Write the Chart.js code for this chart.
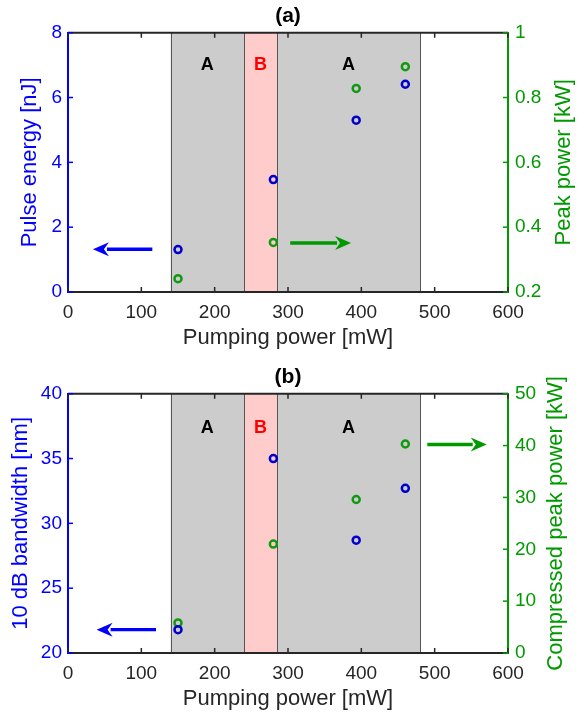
<!DOCTYPE html>
<html>
<head>
<meta charset="utf-8">
<script src="https://cdn.jsdelivr.net/npm/chart.js@4/dist/chart.umd.min.js"></script>
<style>
  html, body { margin: 0; padding: 0; background: #fff; overflow: hidden; width: 588px; height: 716px; }
  .panel { position: absolute; left: 0; width: 588px; height: 360px; }
  #panelA { top: 0; }
  #panelB { top: 361px; }
</style>
</head>
<body>
<div class="panel" id="panelA"><canvas id="chartA"></canvas></div>
<div class="panel" id="panelB"><canvas id="chartB"></canvas></div>
<script>
// Measurements versus pumping power
const pumpPower = [150, 280, 393, 460];            // mW
const pulseEnergy = [1.31, 3.47, 5.30, 6.41];       // nJ
const peakPower = [0.241, 0.353, 0.828, 0.895];     // kW
const bandwidth10dB = [21.8, 35.0, 28.7, 32.7];     // nm
const compressedPeakPower = [5.8, 21.0, 29.6, 40.3]; // kW

// Operating regimes along the pumping-power axis
const regionStart = [140, 240, 285];
const regionEnd = [240, 285, 480];
const regionName = ['A', 'B', 'A'];

// Tick values
const pumpTicks = [0, 100, 200, 300, 400, 500, 600];
const energyTicks = [0, 2, 4, 6, 8];
const peakTicks = [0.2, 0.4, 0.6, 0.8, 1];
const bandwidthTicks = [20, 25, 30, 35, 40];
const compressedTicks = [0, 10, 20, 30, 40, 50];

const FONT = '"Liberation Sans", Arial, Helvetica, sans-serif';
const BLUE = '#0000ff';
const BLUE_MARK = '#0000cc';
const GREEN = '#009900';
const GREEN_MARK = '#119911';
const DARK = '#262626';
const TICK_SIZE = 19;
const LABEL_SIZE = 22;
const regionStyle = {
  A: { fill: '#cccccc', text: '#000000' },
  B: { fill: '#ffcccc', text: '#ff0000' }
};

// Shaded regimes behind everything, inward ticks, top border, labels and arrows on top
const decorPlugin = {
  id: 'decor',
  beforeDraw(chart) {
    const { ctx, chartArea: { top, bottom }, scales: { x } } = chart;
    ctx.save();
    regionStart.forEach((s, i) => {
      const x0 = x.getPixelForValue(s);
      const x1 = x.getPixelForValue(regionEnd[i]);
      ctx.fillStyle = regionStyle[regionName[i]].fill;
      ctx.fillRect(x0, top, x1 - x0, bottom - top);
    });
    ctx.strokeStyle = '#555555';
    ctx.lineWidth = 1;
    const edges = new Set([...regionStart, ...regionEnd]);
    edges.forEach(v => {
      const px = Math.round(x.getPixelForValue(v)) + 0.5;
      ctx.beginPath();
      ctx.moveTo(px, top);
      ctx.lineTo(px, bottom);
      ctx.stroke();
    });
    ctx.restore();
  },
  afterDatasetsDraw(chart, args, opts) {
    const { ctx, scales } = chart;
    const { x, y } = scales;
    ctx.save();
    // regime letters
    ctx.font = 'bold 18px ' + FONT;
    ctx.textAlign = 'center';
    ctx.textBaseline = 'middle';
    const ly = y.getPixelForValue(y.min + (y.max - y.min) * opts.labelLevel);
    regionStart.forEach((s, i) => {
      const cx = (x.getPixelForValue(s) + x.getPixelForValue(regionEnd[i])) / 2;
      ctx.fillStyle = regionStyle[regionName[i]].text;
      ctx.fillText(regionName[i], cx, ly);
    });
    // arrows pointing to the matching axis
    (opts.arrows || []).forEach(a => {
      const sy = scales[a.axis];
      const x0 = x.getPixelForValue(a.from);
      const x1 = x.getPixelForValue(a.to);
      const py = sy.getPixelForValue(a.level);
      const dir = Math.sign(x1 - x0);
      const head = 16, half = 7;
      ctx.strokeStyle = a.color;
      ctx.fillStyle = a.color;
      ctx.lineWidth = 3.4;
      ctx.beginPath();
      ctx.moveTo(x0, py);
      ctx.lineTo(x1 - dir * (head - 2), py);
      ctx.stroke();
      ctx.beginPath();
      ctx.moveTo(x1, py);
      ctx.lineTo(x1 - dir * head, py - half);
      ctx.lineTo(x1 - dir * (head - 5), py);
      ctx.lineTo(x1 - dir * head, py + half);
      ctx.closePath();
      ctx.fill();
    });
    ctx.restore();
  },
  afterDraw(chart, args, opts) {
    const { ctx, chartArea: { top, bottom, left, right }, scales: { x, y, y1 } } = chart;
    const len = 5;
    ctx.save();
    // top frame line
    ctx.strokeStyle = DARK;
    ctx.lineWidth = 2;
    ctx.beginPath();
    ctx.moveTo(left, top);
    ctx.lineTo(right, top);
    ctx.stroke();
    ctx.lineWidth = 1.5;
    x.ticks.forEach(t => {
      const px = x.getPixelForValue(t.value);
      ctx.beginPath();
      ctx.moveTo(px, bottom); ctx.lineTo(px, bottom - len);
      ctx.moveTo(px, top); ctx.lineTo(px, top + len);
      ctx.stroke();
    });
    ctx.strokeStyle = BLUE;
    y.ticks.forEach(t => {
      const py = y.getPixelForValue(t.value);
      ctx.beginPath();
      ctx.moveTo(left, py); ctx.lineTo(left + len, py);
      ctx.stroke();
    });
    ctx.strokeStyle = GREEN;
    y1.ticks.forEach(t => {
      const py = y1.getPixelForValue(t.value);
      ctx.beginPath();
      ctx.moveTo(right, py); ctx.lineTo(right - len, py);
      ctx.stroke();
    });
    // right axis title, reading upward like the left one
    ctx.translate(opts.rightTitleX, (top + bottom) / 2);
    ctx.rotate(-Math.PI / 2);
    ctx.font = LABEL_SIZE + 'px ' + FONT;
    ctx.fillStyle = GREEN;
    ctx.textAlign = 'center';
    ctx.textBaseline = 'middle';
    ctx.fillText(opts.rightTitle, 0, 0);
    ctx.restore();
  }
};

function fixedTicks(values) {
  return scale => { scale.ticks = values.map(v => ({ value: v })); };
}

function makeChart(canvasId, cfg) {
  const pointStyle = color => ({
    pointStyle: 'circle',
    pointRadius: 3.5,
    pointHoverRadius: 3.5,
    pointBorderWidth: 2.5,
    pointBorderColor: color,
    pointBackgroundColor: 'rgba(0,0,0,0)',
    showLine: false
  });
  return new Chart(document.getElementById(canvasId), {
    type: 'scatter',
    data: {
      datasets: [
        Object.assign({ label: cfg.leftTitle, yAxisID: 'y',
          data: pumpPower.map((p, i) => ({ x: p, y: cfg.leftData[i] })) }, pointStyle(BLUE_MARK)),
        Object.assign({ label: cfg.rightTitle, yAxisID: 'y1',
          data: pumpPower.map((p, i) => ({ x: p, y: cfg.rightData[i] })) }, pointStyle(GREEN_MARK))
      ]
    },
    options: {
      responsive: true,
      maintainAspectRatio: false,
      animation: false,
      events: [],
      layout: { padding: 0 },
      plugins: {
        legend: { display: false },
        tooltip: { enabled: false },
        title: {
          display: true,
          text: cfg.title,
          fullSize: false,
          color: '#000',
          font: { family: FONT, size: 21, weight: 'bold', lineHeight: 1.1 },
          padding: { top: 5, bottom: 4.6 }
        },
        decor: {
          labelLevel: cfg.labelLevel,
          arrows: cfg.arrows,
          rightTitle: cfg.rightTitle,
          rightTitleX: cfg.rightTitleX
        }
      },
      scales: {
        x: {
          type: 'linear',
          position: 'bottom',
          min: 0, max: 600,
          afterBuildTicks: fixedTicks(pumpTicks),
          afterFit: s => { s.height = 68; },
          grid: { display: false, drawTicks: false },
          border: { display: true, color: DARK, width: 2 },
          ticks: { color: DARK, padding: 9, maxRotation: 0, font: { family: FONT, size: TICK_SIZE },
                   callback: v => String(v) },
          title: { display: true, text: 'Pumping power [mW]', color: DARK,
                   font: { family: FONT, size: LABEL_SIZE }, padding: { top: 0, bottom: 9 } }
        },
        y: {
          type: 'linear',
          position: 'left',
          min: cfg.leftTicks[0], max: cfg.leftTicks[cfg.leftTicks.length - 1],
          afterBuildTicks: fixedTicks(cfg.leftTicks),
          afterFit: s => { s.width = 68; },
          grid: { display: false, drawTicks: false },
          border: { display: true, color: BLUE, width: 2 },
          ticks: { color: BLUE, padding: 6, font: { family: FONT, size: TICK_SIZE }, callback: v => String(v) },
          title: { display: true, text: cfg.leftTitle, color: BLUE,
                   font: { family: FONT, size: LABEL_SIZE }, padding: { top: cfg.leftTitlePad, bottom: 0 } }
        },
        y1: {
          type: 'linear',
          position: 'right',
          min: cfg.rightTicks[0], max: cfg.rightTicks[cfg.rightTicks.length - 1],
          afterBuildTicks: fixedTicks(cfg.rightTicks),
          afterFit: s => { s.width = 80; },
          grid: { display: false, drawTicks: false },
          border: { display: true, color: GREEN, width: 2 },
          ticks: { color: GREEN, padding: 7, font: { family: FONT, size: TICK_SIZE }, callback: v => String(v) },
          title: { display: false }
        }
      }
    },
    plugins: [decorPlugin]
  });
}

makeChart('chartA', {
  title: '(a)',
  leftTitle: 'Pulse energy [nJ]',
  rightTitle: 'Peak power [kW]',
  leftData: pulseEnergy,
  rightData: peakPower,
  leftTicks: energyTicks,
  rightTicks: peakTicks,
  leftTitlePad: 17,
  rightTitleX: 564,
  labelLevel: 0.875,
  arrows: [
    { axis: 'y', from: 115, to: 34, level: 1.32, color: BLUE },
    { axis: 'y1', from: 303, to: 386, level: 0.351, color: GREEN }
  ]
});

makeChart('chartB', {
  title: '(b)',
  leftTitle: '10 dB bandwidth [nm]',
  rightTitle: 'Compressed peak power [kW]',
  leftData: bandwidth10dB,
  rightData: compressedPeakPower,
  leftTicks: bandwidthTicks,
  rightTicks: compressedTicks,
  leftTitlePad: 8,
  rightTitleX: 556,
  labelLevel: 0.868,
  arrows: [
    { axis: 'y', from: 120, to: 39, level: 21.8, color: BLUE },
    { axis: 'y1', from: 490, to: 571, level: 40.2, color: GREEN }
  ]
});
</script>
</body>
</html>
